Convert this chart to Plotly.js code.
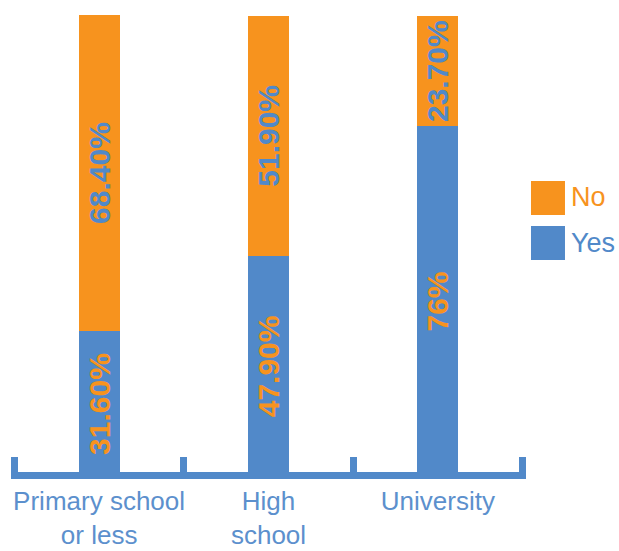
<!DOCTYPE html>
<html>
<head>
<meta charset="utf-8">
<script src="https://cdn.plot.ly/plotly-3.0.1.min.js"></script>
<style>html,body{margin:0;padding:0;background:#fff;}#chart{width:619px;height:551px;}</style>
</head>
<body>
<div id="chart"></div>
<script>
const categories = ['Primary school<br>or less', 'High<br>school', 'University'];
const yesValues = [31.6, 47.9, 76];
const noValues = [68.4, 51.9, 23.7];
const yesLabels = ['31.60%', '47.90%', '76%'];
const noLabels = ['68.40%', '51.90%', '23.70%'];
const seriesNames = ['No', 'Yes'];

const ORANGE = '#F7931E';
const BLUE = '#5189C9';
const LABEL_BLUE = '#5C90CD';
const barFont = {family: 'Liberation Sans, Arial, sans-serif', size: 30, weight: 'bold'};

const traces = [
  {
    type: 'bar', name: seriesNames[1], x: categories, y: yesValues,
    text: yesLabels, textposition: 'inside', insidetextanchor: 'middle', textangle: -90,
    textfont: Object.assign({color: ORANGE}, barFont),
    marker: {color: BLUE}, width: 0.242, hoverinfo: 'none'
  },
  {
    type: 'bar', name: seriesNames[0], x: categories, y: noValues,
    text: noLabels, textposition: 'inside', insidetextanchor: 'middle', textangle: -90,
    textfont: Object.assign({color: BLUE}, barFont),
    marker: {color: ORANGE}, width: 0.242, hoverinfo: 'none'
  }
];

const legendItems = [
  {name: seriesNames[0], color: ORANGE, y0: 0.5624, y1: 0.6368, ty: 0.6018},
  {name: seriesNames[1], color: BLUE, y0: 0.4639, y1: 0.5383, ty: 0.5011}
];

const layout = {
  width: 619, height: 551,
  margin: {l: 11, r: 93, t: 15, b: 79},
  paper_bgcolor: '#fff', plot_bgcolor: '#fff',
  barmode: 'stack',
  showlegend: false,
  font: {family: 'Liberation Sans, Arial, sans-serif'},
  xaxis: {
    type: 'category', range: [-0.52, 2.52], automargin: false,
    showline: true, linecolor: BLUE, linewidth: 7,
    ticks: 'inside', tickson: 'boundaries', ticklen: 15, tickwidth: 7, tickcolor: BLUE,
    tickangle: 0,
    tickfont: {size: 26, color: LABEL_BLUE, family: 'Liberation Sans, Arial, sans-serif'},
    showgrid: false, zeroline: false, fixedrange: true
  },
  yaxis: {
    range: [1.1, 100], visible: false, automargin: false, showgrid: false, zeroline: false, fixedrange: true
  },
  shapes: legendItems.map(it => ({
    type: 'rect', xref: 'paper', yref: 'paper',
    x0: 1.0097, x1: 1.0757, y0: it.y0, y1: it.y1,
    fillcolor: it.color, line: {width: 0}
  })),
  annotations: legendItems.map(it => ({
    xref: 'paper', yref: 'paper', x: 1.0835, y: it.ty,
    xanchor: 'left', yanchor: 'middle', showarrow: false,
    text: it.name, font: {size: 27, color: it.color, family: 'Liberation Sans, Arial, sans-serif'}
  }))
};

Plotly.newPlot('chart', traces, layout, {displayModeBar: false, staticPlot: true});
</script>
</body>
</html>
